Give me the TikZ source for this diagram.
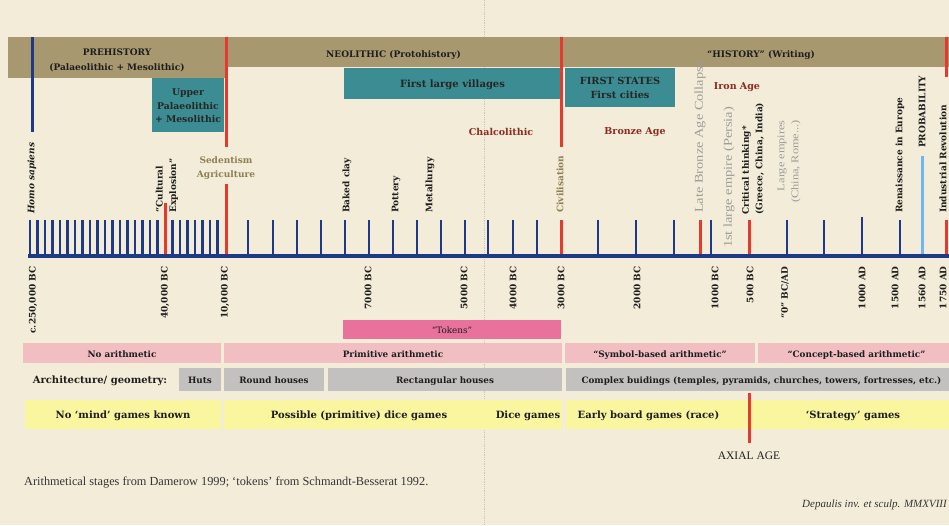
\documentclass[tikz,border=0pt]{standalone}
\usepackage{fontspec}
\setmainfont{DejaVu Serif}
\newfontfamily\libserif{Liberation Serif}
\newfontfamily\wserif[FakeStretch=1.2]{Liberation Serif}
\usetikzlibrary{fit}
\definecolor{bg}{HTML}{F2ECD8}
\definecolor{bandc}{HTML}{A7986F}
\definecolor{tealc}{HTML}{3C8D93}
\definecolor{navy}{HTML}{1E3A86}
\definecolor{redc}{HTML}{E8392E}
\definecolor{lblue}{HTML}{6DB8EE}
\definecolor{tokc}{HTML}{E8729C}
\definecolor{pinkc}{HTML}{F1BEC2}
\definecolor{grayc}{HTML}{C2C1BF}
\definecolor{yelc}{HTML}{FAF6A0}
\definecolor{txt}{HTML}{1E1E1E}
\definecolor{dred}{HTML}{8E2A22}
\definecolor{olive}{HTML}{8F7F55}
\definecolor{gtxt}{HTML}{9C9C9C}
\definecolor{guide}{HTML}{CFC8B4}
% box: name, fill style, x1, y1, x2, y2, text style, text
\newcommand\bx[8]{%
  \node[#2, fit={(#3,#4) (#5,#6)}] (#1) {};
  \node[#7] (#1-t) at (#1.center) {#8};}
\begin{document}
\begin{tikzpicture}[x=1pt,y=-1pt,
  boxf/.style={inner sep=0pt, draw=none},
  bandbox/.style={boxf, fill=bandc},
  tealbox/.style={boxf, fill=tealc},
  arbox/.style={boxf, fill=pinkc},
  tokbox/.style={boxf, fill=tokc},
  archbox/.style={boxf, fill=grayc},
  gamebox/.style={boxf, fill=yelc},
  bt/.style={inner sep=0pt, align=center, text=txt, yshift=-1.8pt,
    font=\fontsize{8.8}{11}\selectfont\bfseries},
  sl/.style={text height=6.6pt, text depth=1.8pt},
  bandtxt/.style={bt, yshift=-1.2pt, font=\fontsize{9}{15}\selectfont\bfseries},
  tealtxt/.style={bt, text=black!85, font=\fontsize{9.3}{13.5}\selectfont\bfseries},
  gametxt/.style={bt, sl, font=\fontsize{10}{12}\selectfont\bfseries},
  lab/.style={inner sep=0pt, text=txt, font=\fontsize{9}{13.5}\selectfont\bfseries},
  vlab/.style={lab, rotate=90, anchor=west},
  glab/.style={inner sep=0pt, text=gtxt, rotate=90, font=\wserif\fontsize{12}{14}\selectfont},
  axl/.style={lab, rotate=90, anchor=east},
  agelab/.style={lab, text=dred, font=\fontsize{9.5}{12}\selectfont\bfseries},
  olab/.style={lab, text=olive},
  tickl/.style={line width=2.4pt, draw=navy},
  redl/.style={line width=3pt, draw=redc},
]
\useasboundingbox (0,0) rectangle (949,525);
\fill[bg] (0,0) rectangle (949,525);
\draw[guide, densely dotted, line width=0.8pt] (484,0) -- (484,525);

% top bands
\bx{prehist}{bandbox}{8}{37}{226}{78}{bandtxt}{PREHISTORY\\(Palaeolithic + Mesolithic)}
\bx{neol}{bandbox}{226}{37}{561}{67}{bandtxt, sl}{NEOLITHIC (Protohistory)}
\bx{hist}{bandbox}{561}{37}{949}{67}{bandtxt, sl, xshift=6pt}{“HISTORY” (Writing)}
\bx{upal}{tealbox}{152}{78}{224}{132}{tealtxt, yshift=0.8pt}{Upper\\Palaeolithic\\+ Mesolithic}
\bx{vill}{tealbox}{344}{68}{561}{99}{tealtxt, sl, font=\fontsize{10}{13}\selectfont\bfseries}{First large villages}
\bx{states}{tealbox}{565}{68}{675}{107}{tealtxt, yshift=1.5pt, font=\fontsize{9.8}{14}\selectfont\bfseries}{FIRST STATES\\First cities}

% ticks
\foreach \k in {0,...,17,19,20,21,22,23,24,25}{
  \draw[tickl] ({30+7.5*\k},220) -- ({30+7.5*\k},256);
}
\foreach \x in {248,273,297,321,345,369,393,417,441,465,488,513,537,598,636,674,711,787,824,900}{
  \draw[tickl] (\x,220) -- (\x,256);
}
\draw[tickl] (862,217) -- (862,256);
% special lines
\draw[navy, line width=3pt] (32,37) -- (32,132);
\draw[redl] (165,203) -- (165,256);
\draw[redl] (226,37) -- (226,147);
\draw[redl] (226,184) -- (226,256);
\draw[redl] (561,37) -- (561,147);
\draw[redl] (561,220) -- (561,256);
\draw[redl] (700,220) -- (700,256);
\draw[redl] (749,220) -- (749,256);
\draw[redl] (946,37) -- (946,77);
\draw[redl] (946,220) -- (946,256);
\draw[lblue, line width=3pt] (922,156) -- (922,256);
% baseline
\draw[navy, line width=3.5pt] (28,256) -- (949,256);

% upper labels
\node[olab, align=center] (sed) at (226,168) {Sedentism\\Agriculture};
\node[agelab] (chalc) at (501,132) {Chalcolithic};
\node[agelab] (bronze) at (635,132) {Bronze Age};
\node[agelab] (iron) at (737,87) {Iron Age};

\node[vlab, font=\fontsize{9}{13}\selectfont\bfseries\itshape] (homo) at (32,214) {Homo sapiens};
\node[vlab, align=left] (cult) at (167,213) {“Cultural\\Explosion”};
\node[vlab] (baked) at (347,213) {Baked clay};
\node[vlab] (pot) at (396,213) {Pottery};
\node[vlab] (metal) at (430,213) {Metallurgy};
\node[vlab, text=olive] (civ) at (560,213) {Civilisation};
\node[glab, anchor=west] (lbac) at (700,213) {Late Bronze Age Collapse};
\node[glab, anchor=west] (persia) at (729,248) {1st large empire (Persia)};
\node[vlab, align=left] (crit) at (753,215) {Critical thinking*\\(Greece, China, India)};
\node[glab, anchor=east, align=right, font=\wserif\fontsize{10.3}{14}\selectfont] (lemp) at (789,120) {Large empires\\(China, Rome...)};
\node[vlab] (ren) at (900,213) {Renaissance in Europe};
\node[vlab] (prob) at (922,148) {PROBABILITY};
\node[vlab] (indus) at (943,213) {Industrial Revolution};

% axis labels
\node[axl] (d1) at (33,266) {c.250,000 BC};
\node[axl] (d2) at (165,266) {40,000 BC};
\node[axl] (d3) at (225,266) {10,000 BC};
\node[axl] (d4) at (368,266) {7000 BC};
\node[axl] (d5) at (464,266) {5000 BC};
\node[axl] (d6) at (513,266) {4000 BC};
\node[axl] (d7) at (561,266) {3000 BC};
\node[axl] (d8) at (637,266) {2000 BC};
\node[axl] (d9) at (715,266) {1000 BC};
\node[axl] (d10) at (750,266) {500 BC};
\node[axl] (d11) at (785,266) {“0” BC/AD};
\node[axl] (d12) at (862,266) {1000 AD};
\node[axl] (d13) at (895,266) {1500 AD};
\node[axl] (d14) at (922,266) {1560 AD};
\node[axl] (d15) at (943,266) {1750 AD};

% tokens
\bx{tok}{tokbox}{343}{320}{561}{339}{bt, sl, font=\fontsize{8.8}{11}\selectfont}{“Tokens”}

% arithmetic row
\bx{noar}{arbox}{23}{343}{221}{363}{bt, sl}{No arithmetic}
\bx{prim}{arbox}{224}{343}{562}{363}{bt, sl}{Primitive arithmetic}
\bx{symb}{arbox}{565}{343}{755}{363}{bt, sl}{“Symbol-based arithmetic”}
\bx{conc}{arbox}{758}{343}{949}{363}{bt, sl, xshift=3pt}{“Concept-based arithmetic”}

% architecture row
\node[lab, sl, yshift=-1.5pt, font=\fontsize{10}{12}\selectfont\bfseries] (archl) at (100,380) {Architecture/ geometry:};
\bx{huts}{archbox}{179}{368}{221}{391}{bt, sl}{Huts}
\bx{round}{archbox}{224}{368}{324}{391}{bt, sl}{Round houses}
\bx{rect}{archbox}{328}{368}{562}{391}{bt, sl}{Rectangular houses}
\bx{cplx}{archbox}{566}{368}{949}{391}{bt, sl, xshift=4pt}{Complex buidings (temples, pyramids, churches, towers, fortresses, etc.)}

% games row
\bx{nomind}{gamebox}{25}{400}{221}{429}{gametxt}{No ‘mind’ games known}
\bx{dice1}{gamebox}{224}{400}{494}{429}{gametxt}{Possible (primitive) dice games}
\bx{dice2}{gamebox}{494}{400}{562}{429}{gametxt}{Dice games}
\bx{early}{gamebox}{566}{400}{749}{429}{gametxt, xshift=-9pt}{Early board games (race)}
\bx{strat}{gamebox}{749}{400}{949}{429}{gametxt, xshift=4pt}{‘Strategy’ games}
\draw[redl] (749,393) -- (749,443);
\node[inner sep=0pt, text=txt, font=\libserif\fontsize{11.5}{13}\selectfont] (axial) at (749,456) {AXIAL AGE};

% footer
\node[inner sep=0pt, anchor=west, text=txt!90, font=\libserif\fontsize{12.3}{14}\selectfont] (foot) at (24,482)
  {Arithmetical stages from Damerow 1999; ‘tokens’ from Schmandt-Besserat 1992.};
\node[inner sep=0pt, anchor=east, text=txt!90, font=\libserif\fontsize{11}{13}\selectfont\itshape] (sig) at (947,505)
  {Depaulis inv. et sculp. MMXVIII};
\end{tikzpicture}
\end{document}
